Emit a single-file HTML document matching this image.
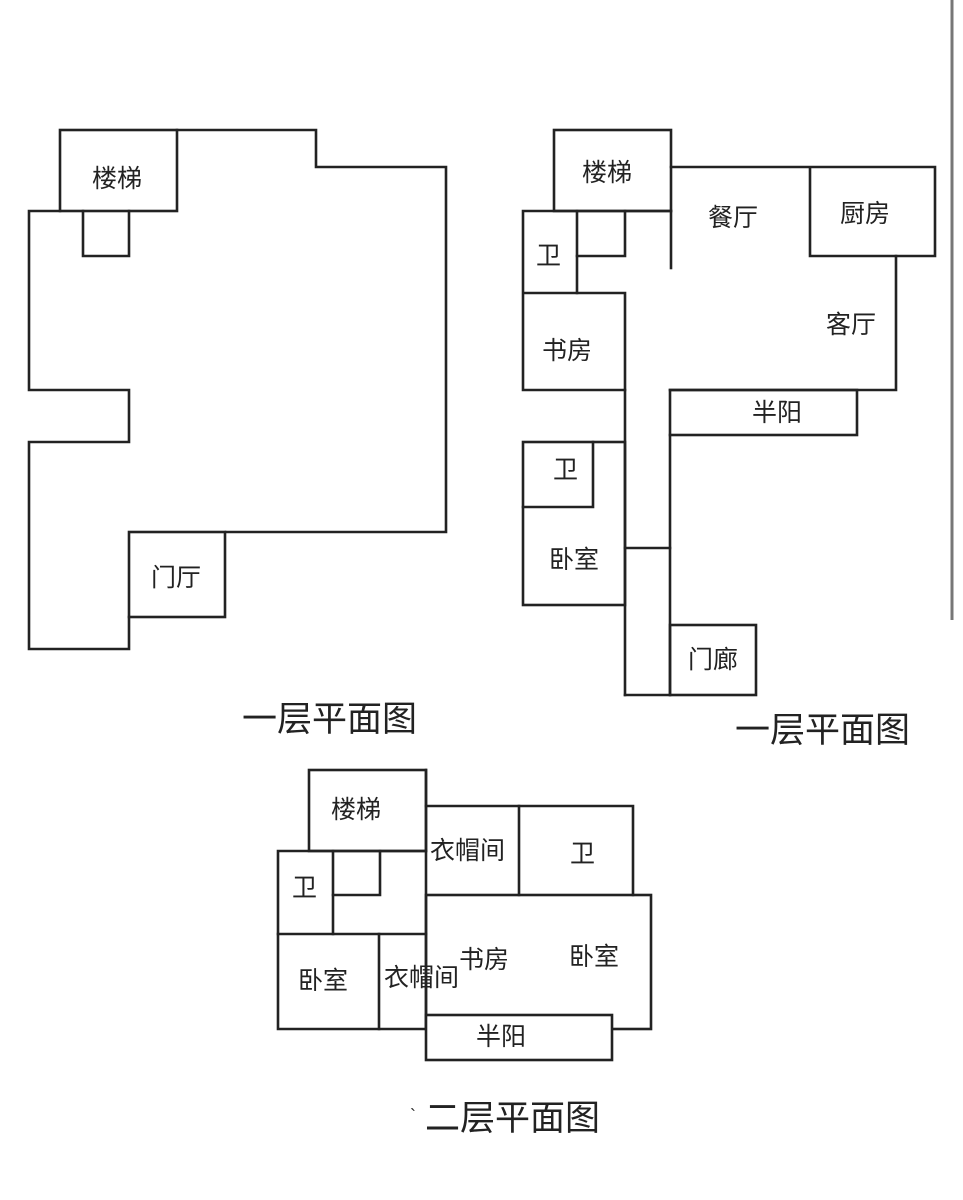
<!DOCTYPE html>
<html><head><meta charset="utf-8"><style>
html,body{margin:0;padding:0;background:#fff;}
svg{display:block;}
text{font-family:"Liberation Sans","Noto Sans CJK SC",sans-serif;fill:#222;}
</style></head><body>
<svg width="963" height="1200" viewBox="0 0 963 1200" xmlns="http://www.w3.org/2000/svg">
<rect width="963" height="1200" fill="#fff"/>
<g fill="none" stroke="#222" stroke-width="2.6" stroke-linecap="square" stroke-linejoin="miter">
<rect x="60" y="130" width="117" height="81"/>
<polyline points="177,130 316,130 316,167 446,167 446,532 226,532"/>
<rect x="129" y="532" width="96" height="85"/>
<polyline points="60,211 29,211 29,390 129,390 129,442 29,442 29,649 129,649 129,617"/>
<polyline points="83,211 83,256 129,256 129,211"/>
<rect x="554" y="130" width="117" height="81"/>
<polyline points="671,167 935,167 935,256 810,256 810,167"/>
<polyline points="896,256 896,390 670,390"/>
<rect x="670" y="390" width="187" height="45"/>
<line x1="671" y1="211" x2="671" y2="268"/>
<polyline points="671,211 523,211 523,390 625,390 625,293 523,293"/>
<line x1="577" y1="211" x2="577" y2="293"/>
<polyline points="577,256 625,256 625,211"/>
<line x1="625" y1="390" x2="625" y2="695"/>
<line x1="670" y1="435" x2="670" y2="695"/>
<rect x="523" y="442" width="102" height="163"/>
<polyline points="523,507 593,507 593,442"/>
<line x1="625" y1="548" x2="670" y2="548"/>
<rect x="670" y="625" width="86" height="70"/>
<line x1="625" y1="695" x2="670" y2="695"/>
<rect x="309" y="770" width="117" height="81"/>
<polyline points="426,806 633,806 633,895"/>
<line x1="519" y1="806" x2="519" y2="895"/>
<rect x="426" y="895" width="225" height="134"/>
<polyline points="426,851 278,851 278,1029 426,1029"/>
<line x1="426" y1="770" x2="426" y2="1029"/>
<line x1="333" y1="851" x2="333" y2="934"/>
<polyline points="333,895 380,895 380,851"/>
<line x1="278" y1="934" x2="426" y2="934"/>
<line x1="379" y1="934" x2="379" y2="1029"/>
<rect x="426" y="1015" width="186" height="45" fill="#fff"/>
</g>
<line x1="952" y1="0" x2="952" y2="620" stroke="#777" stroke-width="3"/>
<g font-size="25">
<text x="92" y="187">楼梯</text>
<text x="151" y="586">门厅</text>
<text x="582" y="181">楼梯</text>
<text x="708" y="226">餐厅</text>
<text x="840" y="222">厨房</text>
<text x="826" y="333">客厅</text>
<text x="752" y="421">半阳</text>
<text x="536" y="264">卫</text>
<text x="542" y="359">书房</text>
<text x="553" y="478">卫</text>
<text x="549" y="568">卧室</text>
<text x="688" y="668">门廊</text>
<text x="331" y="818">楼梯</text>
<text x="430" y="859">衣帽间</text>
<text x="570" y="862">卫</text>
<text x="292" y="896">卫</text>
<text x="298" y="989">卧室</text>
<text x="384" y="986">衣帽间</text>
<text x="459" y="968">书房</text>
<text x="569" y="965">卧室</text>
<text x="476" y="1045">半阳</text>
</g>
<g font-size="35">
<text x="242" y="731">一层平面图</text>
<text x="735" y="742">一层平面图</text>
<text x="425" y="1130">二层平面图</text>
</g>
<text x="410" y="1122" font-size="18">`</text>
</svg>
</body></html>
